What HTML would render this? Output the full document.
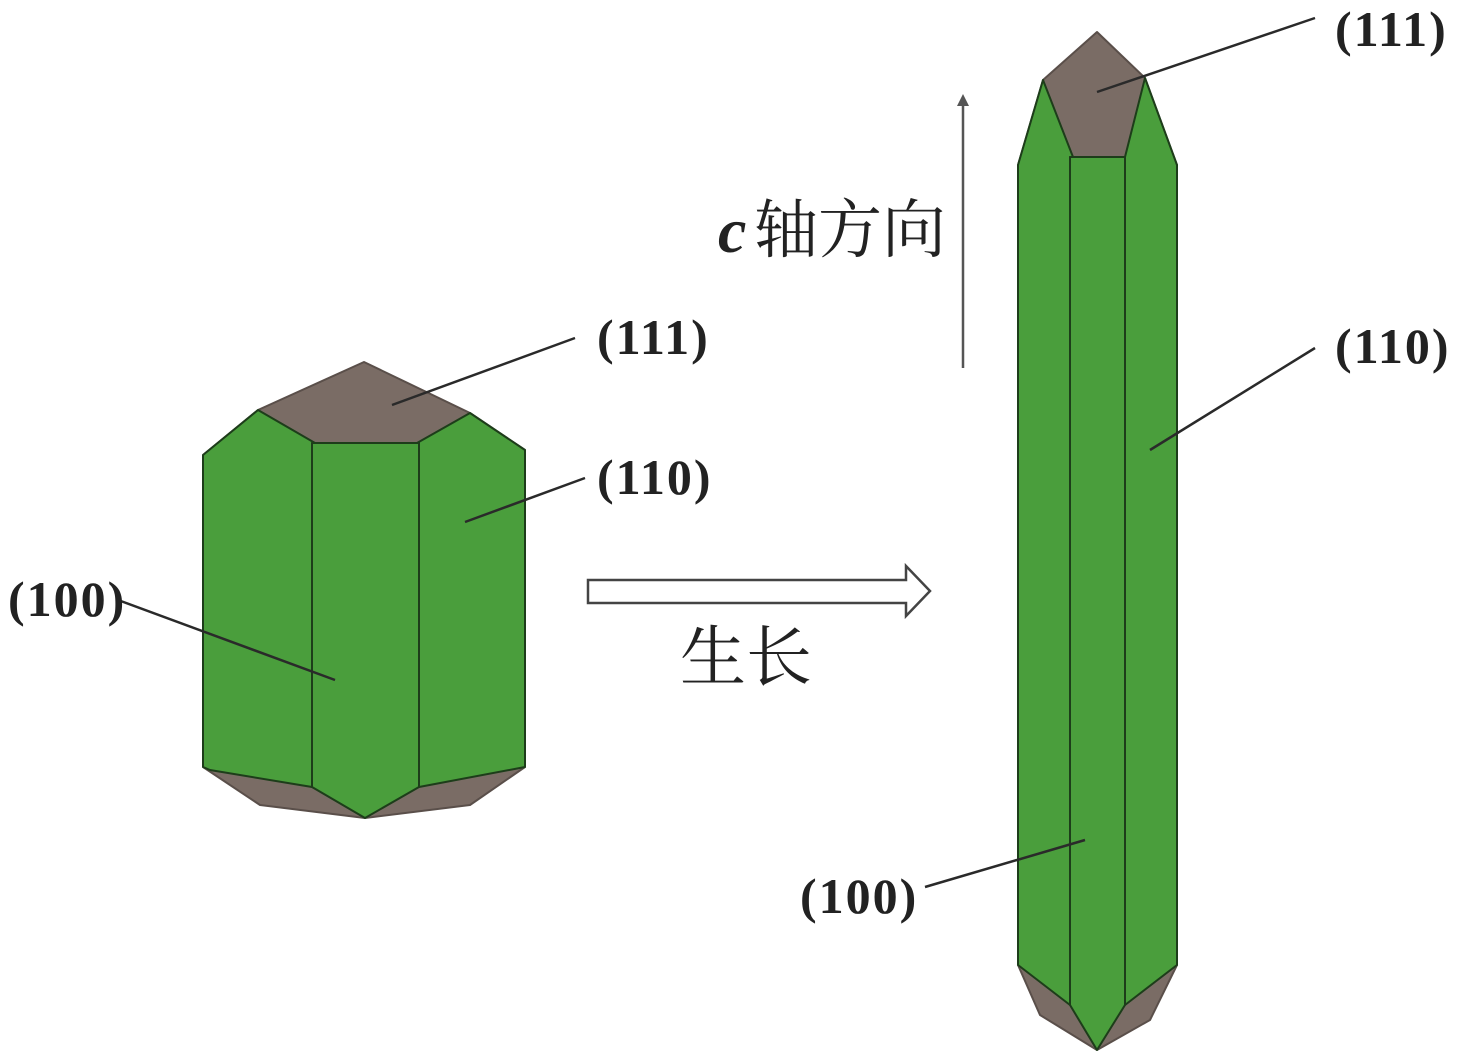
<!DOCTYPE html>
<html><head><meta charset="utf-8"><style>html,body{margin:0;padding:0;background:#fff;}svg{display:block}</style></head>
<body>
<svg width="1465" height="1063" viewBox="0 0 1465 1063" xmlns="http://www.w3.org/2000/svg">
<g stroke="#1d3d1a" stroke-width="2" stroke-linejoin="round">
<polygon points="364,362 258,410 203,455 203,767 260,805 365,818 470,805 525,767 525,450 470,413" fill="#7a6c65" stroke="#5a4f4a"/>
<polygon points="258,410 315,443 312,443 312,787 210,770 203,767 203,455" fill="#4a9e3c"/>
<polygon points="470,413 525,450 525,767 419,787 419,443 417,443" fill="#4a9e3c"/>
<polygon points="312,443 419,443 419,787 365,818 312,787" fill="#4a9e3c"/>
<polygon points="1097,32 1043,80 1018,165 1018,965 1040,1015 1097,1050 1150,1020 1177,965 1177,165 1145,78" fill="#7a6c65" stroke="#5a4f4a"/>
<polygon points="1043,80 1073,157 1070,157 1070,1005 1018,965 1018,165" fill="#4a9e3c"/>
<polygon points="1145,78 1177,165 1177,965 1125,1005 1125,157" fill="#4a9e3c"/>
<polygon points="1070,157 1125,157 1125,1005 1097,1050 1070,1005" fill="#4a9e3c"/>
</g>
<g stroke="#2a2a2a" stroke-width="2.5" fill="none">
<line x1="575" y1="338" x2="392" y2="405"/>
<line x1="585" y1="478" x2="465" y2="522"/>
<line x1="118" y1="600" x2="335" y2="680"/>
<line x1="1315" y1="18" x2="1097" y2="92"/>
<line x1="1315" y1="348" x2="1150" y2="450"/>
<line x1="925" y1="887" x2="1085" y2="840"/>
<line x1="963" y1="368" x2="963" y2="105" stroke="#555"/>
</g>
<polygon points="957,106 963,94 969,106" fill="#555"/>
<polygon points="588,580 906,580 906,566 930,591 906,616 906,603 588,603" fill="#fff" stroke="#444" stroke-width="2.5"/>
<g font-family="Liberation Serif, serif" font-weight="bold" font-size="50" fill="#222" letter-spacing="2">
<text x="597" y="354">(111)</text>
<text x="597" y="494">(110)</text>
<text x="8" y="616">(100)</text>
<text x="1335" y="46">(111)</text>
<text x="1335" y="363">(110)</text>
<text x="800" y="913">(100)</text>
</g>
<text x="718" y="252" font-family="Liberation Serif, serif" font-style="italic" font-weight="bold" font-size="64" fill="#222">c</text>
<text x="754" y="252" font-family="Liberation Serif, 'Noto Serif CJK SC', serif" font-size="64" fill="#222">轴方向</text>
<text x="680" y="680" font-family="Liberation Serif, 'Noto Serif CJK SC', serif" font-size="66" fill="#222">生长</text>
</svg>
</body></html>
